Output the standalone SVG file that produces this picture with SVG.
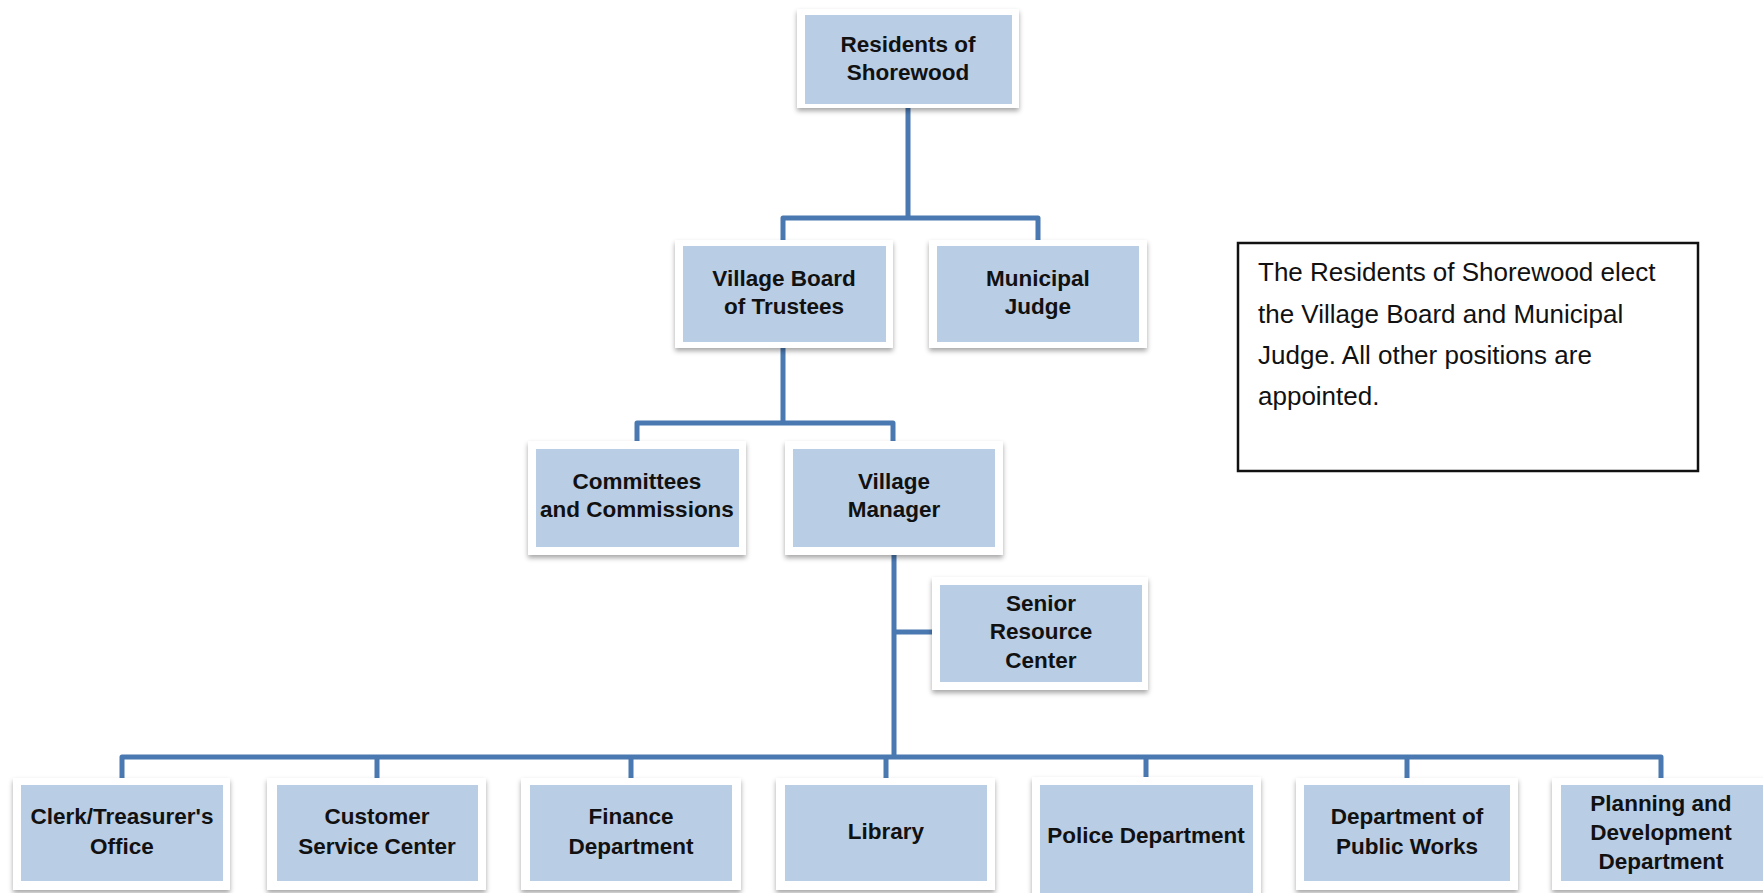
<svg xmlns="http://www.w3.org/2000/svg" width="1763" height="893" viewBox="0 0 1763 893">
<defs>
<filter id="sh" x="-10%" y="-10%" width="120%" height="130%">
<feDropShadow dx="0" dy="3" stdDeviation="2.5" flood-color="#000" flood-opacity="0.35"/>
</filter>
<style>
.frame{fill:#ffffff;filter:url(#sh);}
.box{fill:#b9cde5;}
.lbl{font-family:"Liberation Sans",Arial,sans-serif;font-weight:bold;font-size:22.5px;fill:#111;text-anchor:middle;}
.conn{fill:none;stroke:#4a78b0;stroke-width:5;stroke-linejoin:round;}
.note{font-family:"Liberation Sans",Arial,sans-serif;font-size:26px;fill:#111;}
</style>
</defs>
<rect width="1763" height="893" fill="#ffffff"/>

<g id="connectors">
<path class="conn" d="M908 108 V218 M783 240 V218 H1038 V240"/>
<path class="conn" d="M783 348 V423 M637 441 V423 H893 V441"/>
<path class="conn" d="M894 555 V757 M894 632 H932"/>
<path class="conn" d="M122 778 V757 H1661 V778 M377 757 V778 M631 757 V778 M886 757 V778 M1146 757 V778 M1407 757 V778"/>
</g>

<g id="residents">
<rect class="frame" x="797" y="9" width="222" height="99"/>
<rect class="box" x="805" y="15" width="207" height="89"/>
<text class="lbl" x="908" y="52">Residents of</text>
<text class="lbl" x="908" y="80">Shorewood</text>
</g>

<g id="village-board">
<rect class="frame" x="675" y="240" width="218" height="108"/>
<rect class="box" x="683" y="246" width="203" height="96"/>
<text class="lbl" x="784" y="286">Village Board</text>
<text class="lbl" x="784" y="314">of Trustees</text>
</g>

<g id="municipal-judge">
<rect class="frame" x="929" y="240" width="218" height="108"/>
<rect class="box" x="937" y="246" width="202" height="96"/>
<text class="lbl" x="1038" y="286">Municipal</text>
<text class="lbl" x="1038" y="314">Judge</text>
</g>

<g id="committees">
<rect class="frame" x="528" y="441" width="218" height="114"/>
<rect class="box" x="536" y="449" width="203" height="98"/>
<text class="lbl" x="637" y="489">Committees</text>
<text class="lbl" x="637" y="517">and Commissions</text>
</g>

<g id="village-manager">
<rect class="frame" x="785" y="441" width="218" height="114"/>
<rect class="box" x="793" y="449" width="202" height="98"/>
<text class="lbl" x="894" y="489">Village</text>
<text class="lbl" x="894" y="517">Manager</text>
</g>

<g id="senior-resource-center">
<rect class="frame" x="932" y="577" width="216" height="113"/>
<rect class="box" x="940" y="585" width="202" height="97"/>
<text class="lbl" x="1041" y="611">Senior</text>
<text class="lbl" x="1041" y="639">Resource</text>
<text class="lbl" x="1041" y="668">Center</text>
</g>

<g id="clerk">
<rect class="frame" x="13" y="778" width="217" height="112"/>
<rect class="box" x="21" y="785" width="202" height="96"/>
<text class="lbl" x="122" y="824">Clerk/Treasurer's</text>
<text class="lbl" x="122" y="854">Office</text>
</g>

<g id="customer-service">
<rect class="frame" x="267" y="778" width="219" height="112"/>
<rect class="box" x="277" y="785" width="201" height="96"/>
<text class="lbl" x="377" y="824">Customer</text>
<text class="lbl" x="377" y="854">Service Center</text>
</g>

<g id="finance">
<rect class="frame" x="521" y="778" width="220" height="112"/>
<rect class="box" x="530" y="785" width="202" height="96"/>
<text class="lbl" x="631" y="824">Finance</text>
<text class="lbl" x="631" y="854">Department</text>
</g>

<g id="library">
<rect class="frame" x="776" y="778" width="219" height="112"/>
<rect class="box" x="785" y="785" width="202" height="96"/>
<text class="lbl" x="886" y="839">Library</text>
</g>

<g id="police">
<rect class="frame" x="1032" y="777" width="229" height="125"/>
<rect class="box" x="1040" y="785" width="213" height="115"/>
<text class="lbl" x="1146" y="843">Police Department</text>
</g>

<g id="public-works">
<rect class="frame" x="1296" y="778" width="222" height="112"/>
<rect class="box" x="1304" y="785" width="206" height="96"/>
<text class="lbl" x="1407" y="824">Department of</text>
<text class="lbl" x="1407" y="854">Public Works</text>
</g>

<g id="planning">
<rect class="frame" x="1552" y="778" width="220" height="112"/>
<rect class="box" x="1561" y="785" width="202" height="96"/>
<text class="lbl" x="1661" y="811">Planning and</text>
<text class="lbl" x="1661" y="840">Development</text>
<text class="lbl" x="1661" y="869">Department</text>
</g>

<g id="note">
<rect x="1238" y="243" width="460" height="228" fill="#ffffff" stroke="#111" stroke-width="2.5"/>
<text class="note" x="1258" y="281">The Residents of Shorewood elect</text>
<text class="note" x="1258" y="323">the Village Board and Municipal</text>
<text class="note" x="1258" y="364">Judge. All other positions are</text>
<text class="note" x="1258" y="405">appointed.</text>
</g>
</svg>
